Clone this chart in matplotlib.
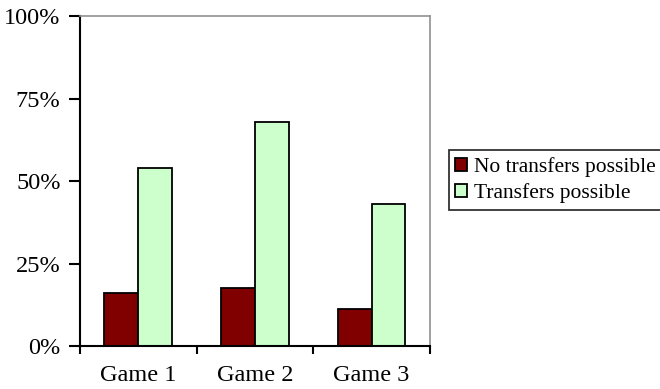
import matplotlib.pyplot as plt
import numpy as np
from matplotlib.ticker import PercentFormatter

games = ["Game 1", "Game 2", "Game 3"]
no_transfers = [16.2, 17.5, 11.1]
transfers = [54.0, 67.8, 42.9]
series_labels = ["No transfers possible", "Transfers possible"]

plt.rcParams["font.family"] = ["Liberation Serif", "DejaVu Serif"]
plt.rcParams["font.size"] = 17.5

fig = plt.figure(figsize=(6.6, 3.89), dpi=100)
ax = fig.add_axes([80 / 660, 1 - 346 / 389, 350 / 660, 330 / 389])

x = np.arange(len(games))
width = 0.29
ax.bar(x - width / 2, no_transfers, width, color="#800000",
       edgecolor="black", linewidth=1.3, label=series_labels[0])
ax.bar(x + width / 2, transfers, width, color="#ccffcc",
       edgecolor="black", linewidth=1.3, label=series_labels[1])

ax.set_xlim(-0.5, len(games) - 0.5)
ax.set_ylim(0, 100)
ax.set_yticks([0, 25, 50, 75, 100])
ax.yaxis.set_major_formatter(PercentFormatter(decimals=0))

# category labels in the middle, tick marks between groups
ax.set_xticks(x)
ax.set_xticklabels(games)
ax.tick_params(axis="x", length=0, pad=14)
ax.set_xticks(np.arange(len(games) + 1) - 0.5, minor=True)
ax.tick_params(axis="x", which="minor", length=6, width=1.5, direction="out")
ax.tick_params(axis="y", length=8, width=1.5, direction="out", pad=6)

for side in ("left", "bottom"):
    ax.spines[side].set_color("black")
    ax.spines[side].set_linewidth(1.5)
for side in ("top", "right"):
    ax.spines[side].set_color("#909090")
    ax.spines[side].set_linewidth(1.2)

leg = fig.legend(loc="center left", bbox_to_anchor=(449 / 660, 1 - 180 / 389),
                 frameon=True, fancybox=False, edgecolor="black",
                 fontsize=15.5, handlelength=0.55, handleheight=0.55,
                 handletextpad=0.3, borderpad=0.3, labelspacing=0.3,
                 borderaxespad=0)
leg.get_frame().set_linewidth(1.3)

fig.savefig("out.png", dpi=100)
